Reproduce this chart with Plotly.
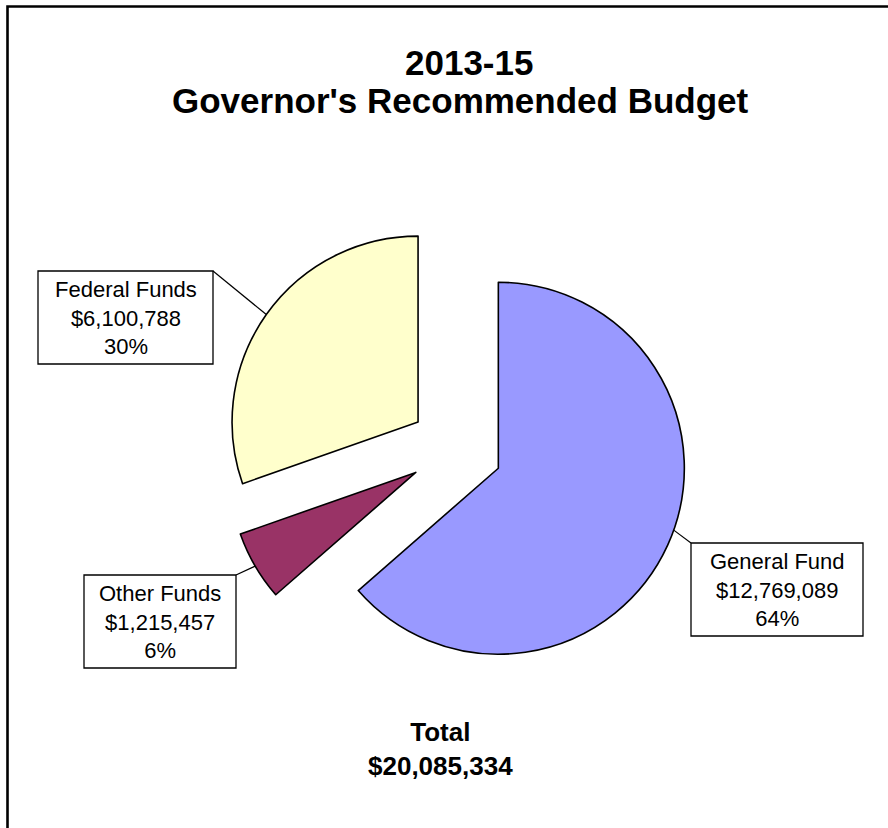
import math
import plotly.graph_objects as go

# Budget sources, listed clockwise from 12 o'clock
fund_names = ["General Fund", "Other Funds", "Federal Funds"]
fund_amounts = [12769089, 1215457, 6100788]
fund_colors = ["#9999FF", "#993366", "#FFFFCC"]
total_amount = 20085334

W, H = 888, 828
PULL = 0.25

# Pie placement (pixels): centre and radius of the unexploded pie
CX, CY, R = 456, 449, 186
half = R * (1 + PULL)
dom_x = [(CX - half) / W, (CX + half) / W]
dom_y = [1 - (CY + half) / H, 1 - (CY - half) / H]

# Label boxes (pixel rectangles) and which corner the leader line leaves from
boxes = {
    "General Fund": dict(x0=691, y0=543, x1=863, y1=636, corner="tl", dang=-5),
    "Other Funds": dict(x0=84, y0=575, x1=236, y1=668, corner="tr", dang=0),
    "Federal Funds": dict(x0=38, y0=271, x1=213, y1=364, corner="tr", dang=0),
}


def px(x):
    return x / W


def py(y):
    return 1 - y / H


def direction(deg):
    # clockwise from 12 o'clock, screen coordinates (y down)
    a = math.radians(deg)
    return math.sin(a), -math.cos(a)


fig = go.Figure(
    go.Pie(
        labels=fund_names,
        values=fund_amounts,
        sort=False,
        direction="clockwise",
        rotation=0,
        pull=[PULL] * len(fund_names),
        marker=dict(colors=fund_colors, line=dict(color="black", width=1.6)),
        textinfo="none",
        hoverinfo="label+value+percent",
        domain=dict(x=dom_x, y=dom_y),
        showlegend=False,
    )
)

shapes = []
annotations = []
total = sum(fund_amounts)
start = 0.0
for name, amt in zip(fund_names, fund_amounts):
    span = 360.0 * amt / total
    mid = start + span / 2
    start += span
    b = boxes[name]
    # apex of the exploded slice, then the point on its rim where the leader ends
    dx, dy = direction(mid)
    ax_, ay_ = CX + PULL * R * dx, CY + PULL * R * dy
    tx, ty = direction(mid + b["dang"])
    tipx, tipy = ax_ + R * tx, ay_ + R * ty
    cx_ = b["x1"] if b["corner"].endswith("r") else b["x0"]
    cy_ = b["y0"]
    shapes.append(dict(type="line", xref="paper", yref="paper",
                       x0=px(cx_), y0=py(cy_), x1=px(tipx), y1=py(tipy),
                       line=dict(color="black", width=1.2)))
    shapes.append(dict(type="rect", xref="paper", yref="paper",
                       x0=px(b["x0"]), y0=py(b["y0"]), x1=px(b["x1"]), y1=py(b["y1"]),
                       fillcolor="white", line=dict(color="black", width=1.3)))
    pct = round(100 * amt / total)
    annotations.append(dict(
        xref="paper", yref="paper",
        x=px((b["x0"] + b["x1"]) / 2), y=py((b["y0"] + b["y1"]) / 2),
        text=f"{name}<br>${amt:,}<br>{pct}%",
        showarrow=False, align="center", xanchor="center", yanchor="middle",
        font=dict(family="Liberation Sans, Arial", size=22, color="black"),
    ))

# Chart frame
shapes.append(dict(type="rect", xref="paper", yref="paper",
                   x0=px(7.5), y0=-0.05, x1=1.05, y1=py(6.5),
                   line=dict(color="black", width=2.6), layer="below"))

annotations.append(dict(
    xref="paper", yref="paper", x=px(469), y=py(62),
    text="<b>2013-15</b>", showarrow=False, xanchor="center", yanchor="middle",
    font=dict(family="Liberation Sans, Arial", size=35, color="black"),
))
annotations.append(dict(
    xref="paper", yref="paper", x=px(460), y=py(101),
    text="<b>Governor's Recommended Budget</b>", showarrow=False,
    xanchor="center", yanchor="middle",
    font=dict(family="Liberation Sans, Arial", size=35, color="black"),
))
annotations.append(dict(
    xref="paper", yref="paper", x=px(440), y=py(749),
    text=f"<b>Total<br>${total_amount:,}</b>", showarrow=False,
    xanchor="center", yanchor="middle",
    font=dict(family="Liberation Sans, Arial", size=26, color="black"),
))

fig.update_layout(
    width=W, height=H, autosize=False,
    margin=dict(l=0, r=0, t=0, b=0),
    paper_bgcolor="white", plot_bgcolor="white",
    shapes=shapes, annotations=annotations,
)

fig.write_html("out.html")
